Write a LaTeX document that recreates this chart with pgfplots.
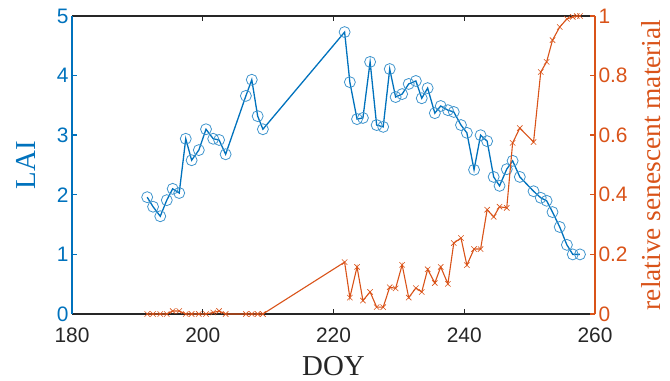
\documentclass[border=0pt]{standalone}
\usepackage{fontspec}
\setmainfont{Liberation Serif}
\newfontfamily\tickfont{Liberation Sans}
\usepackage{pgfplots}
\pgfplotsset{compat=1.18}
\usetikzlibrary{calc}
\definecolor{mblue}{rgb}{0,0.447,0.741}
\definecolor{morange}{rgb}{0.85,0.325,0.098}
\definecolor{mgray}{rgb}{0.15,0.15,0.15}
\pgfplotsset{
  common/.style={
    scale only axis, width=523bp, height=298bp,
    xmin=180, xmax=260,
    tick align=inside,
    major tick length=5bp,
    /pgf/number format/assume math mode=true,
    tick label style={font=\tickfont\fontsize{21}{21}\selectfont},
  }
}
\begin{document}
\begin{tikzpicture}
\begin{axis}[common, name=ax1,
  ymin=0, ymax=5,
  axis x line=box, axis y line*=left,
  x axis line style={-, draw=mgray, line width=1.4bp},
  y axis line style={-, draw=mblue, line width=1.4bp},
  xtick={180,200,220,240,260},
  ytick={0,1,2,3,4,5},
  xtick pos=both,
  xtick style={draw=mgray, line width=1.4bp},
  ytick style={draw=mblue, line width=1.4bp},
  xticklabel style={text=mgray, yshift=-10bp},
  yticklabel style={text=mblue},
  xlabel={DOY}, ylabel={LAI},
  xlabel style={at={(axis description cs:0.5,-0.175)}, anchor=center, text=mgray, font=\fontsize{29}{29}\selectfont},
  ylabel style={at={(axis description cs:-0.088,0.5)}, anchor=center, rotate=0, text=mblue, font=\fontsize{29}{29}\selectfont},
  clip=false,
]
\addplot[mblue, line width=1.3bp, mark=o, mark size=5.5bp,
  mark options={line width=0.8bp, draw=mblue!75}] coordinates {
(191.5,1.96) (192.4,1.80) (193.5,1.64) (194.5,1.91) (195.4,2.10) (196.4,2.03)
(197.4,2.94) (198.3,2.58) (199.4,2.75) (200.5,3.10) (201.6,2.94) (202.5,2.92)
(203.5,2.68) (206.6,3.66) (207.5,3.93) (208.4,3.32) (209.2,3.10)
(221.7,4.73) (222.5,3.89) (223.6,3.27) (224.5,3.29) (225.6,4.23) (226.6,3.17)
(227.6,3.14) (228.6,4.11) (229.5,3.64) (230.5,3.69) (231.5,3.86) (232.6,3.91)
(233.5,3.62) (234.4,3.79) (235.5,3.37) (236.4,3.49) (237.5,3.42) (238.4,3.39)
(239.5,3.17) (240.4,3.04) (241.5,2.42) (242.5,3.00) (243.5,2.90) (244.5,2.30)
(245.4,2.15) (246.5,2.43) (247.4,2.57) (248.5,2.30) (250.6,2.06) (251.7,1.95)
(252.6,1.90) (253.5,1.71) (254.6,1.46) (255.7,1.16) (256.6,1.00) (257.7,1.00)
};
\end{axis}
\begin{axis}[common,
  ymin=0, ymax=1,
  axis x line=none, axis y line*=right,
  y axis line style={-, draw=morange, line width=1.4bp},
  ytick={0,0.2,0.4,0.6,0.8,1},
  yticklabels={0,0.2,0.4,0.6,0.8,1},
  ytick style={draw=morange, line width=1.4bp},
  yticklabel style={text=morange},
  ylabel={relative senescent material},
  ylabel style={at={(axis description cs:1.108,0.5)}, anchor=center, rotate=0, text=morange, font=\fontsize{27.5}{27.5}\selectfont},
  clip=false,
]
\addplot[morange, line width=1.1bp, mark=x, mark size=3.8bp,
  mark options={line width=0.6bp}] coordinates {
(191.5,0) (192.4,0) (193.5,0) (194.5,0) (195.4,0.01) (196.4,0.01) (197.4,0)
(198.3,0) (199.4,0) (200.5,0) (201.6,0.005) (202.5,0.01) (203.5,0)
(206.6,0) (207.5,0) (208.4,0) (209.2,0)
(221.7,0.174) (222.5,0.055) (223.6,0.158) (224.5,0.045) (225.6,0.074)
(226.6,0.023) (227.6,0.023) (228.6,0.09) (229.5,0.086) (230.5,0.165)
(231.5,0.055) (232.6,0.087) (233.5,0.074) (234.4,0.15) (235.5,0.104)
(236.4,0.158) (237.5,0.101) (238.4,0.238) (239.5,0.255) (240.4,0.164)
(241.5,0.218) (242.5,0.218) (243.5,0.35) (244.5,0.326) (245.4,0.36)
(246.5,0.356) (247.4,0.574) (248.5,0.624) (250.6,0.577) (251.7,0.812)
(252.6,0.846) (253.5,0.919) (254.6,0.963) (255.7,0.99) (256.6,0.997)
(257.2,1.0) (257.7,1.0)
};
\end{axis}
\path[use as bounding box] ($(ax1.south west)+(-72bp,-67bp)$) rectangle ($(ax1.north east)+(75bp,16bp)$);
\end{tikzpicture}
\end{document}
